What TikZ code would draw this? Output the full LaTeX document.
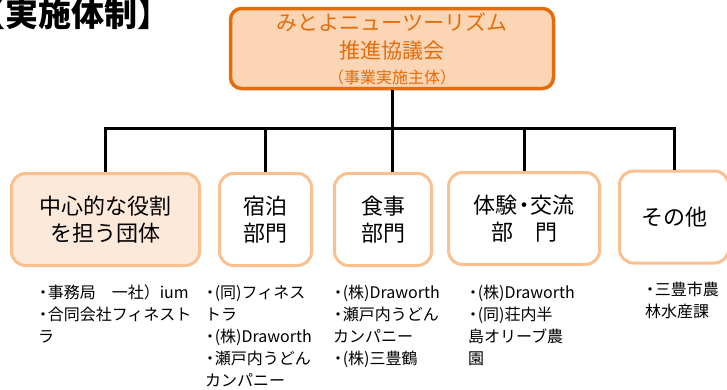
\documentclass[tikz,border=0pt]{standalone}
\usepackage{fontspec}
\newfontfamily\jp{Noto Sans CJK JP}
\definecolor{kyogi}{HTML}{E46C0A}
\definecolor{kyogifill}{HTML}{FCD5B5}
\definecolor{bumon}{HTML}{FAC090}
\definecolor{chushin}{HTML}{FDE9D9}
\newcommand{\nkg}{\makebox[0.6em][c]{・}}

\begin{document}
\begin{tikzpicture}[x=1pt, y=-1pt,
    bumonbox/.style={rectangle, rounded corners=14pt, draw=bumon, line width=3pt, fill=white,
        minimum height=92pt, inner sep=0pt, align=center, font=\jp\fontsize{22}{27}\selectfont},
    member/.style={anchor=north west, inner sep=0pt, align=left, font=\jp\fontsize{16}{22}\selectfont},
    link/.style={line width=3pt}]

                \useasboundingbox (0,0) rectangle (727,389);

                \node[anchor=west, inner sep=0pt, font=\jp\bfseries\fontsize{33}{33}\selectfont] (title) at (-28,14) {【実施体制】};

                \node[rectangle, rounded corners=11pt, draw=kyogi, fill=kyogifill, line width=3.5pt, minimum width=323pt, minimum height=80pt, text=kyogi, align=center, font=\jp\fontsize{21}{28}\selectfont] (top) at (392,48.5) {みとよニューツーリズム\\推進協議会\\[-3pt]{\fontsize{16}{20}\selectfont （事業実施主体）}};

                \node[bumonbox, fill=chushin, minimum width=188pt] (core) at (105.5,219.5) {中心的な役割\\を担う団体};
                \node[bumonbox, minimum width=92pt] (stay) at (265.5,219.5) {宿泊\\部門};
                \node[bumonbox, minimum width=97pt] (food) at (383,219.5) {食事\\部門};
                \node[bumonbox, minimum width=151pt] (exp) at (524,218.5) {体験\nkg 交流\\部　門};
                \node[bumonbox, minimum width=109pt] (other) at (674,217) {その他};

                \coordinate (bus) at (392,128);
                \draw[link] (top.south) -- (top.south |- food.north);
                \draw[link] (core.north) |- (bus) -| (other.north);
                \draw[link] (bus -| stay.north) -- (stay.north);
                \draw[link] (bus -| exp.north) -- (exp.north);

                \node[member] (coreinfo) at (38,285) {\nkg 事務局　一社）ium\\\nkg 合同会社フィネスト\\ラ};
                \node[member] (stayinfo) at (205,285) {\nkg (同)フィネス\\トラ\\\nkg (株)Draworth\\\nkg 瀬戸内うどん\\カンパニー};
                \node[member] (foodinfo) at (333,285) {\nkg (株)Draworth\\\nkg 瀬戸内うどん\\カンパニー\\\nkg (株)三豊鶴};
                \node[member] (expinfo) at (468,285) {\nkg (株)Draworth\\\nkg (同)荘内半\\島オリーブ農\\園};
                \node[member] (otherinfo) at (645,282) {\nkg 三豊市農\\林水産課};

            \end{tikzpicture}
\end{document}
